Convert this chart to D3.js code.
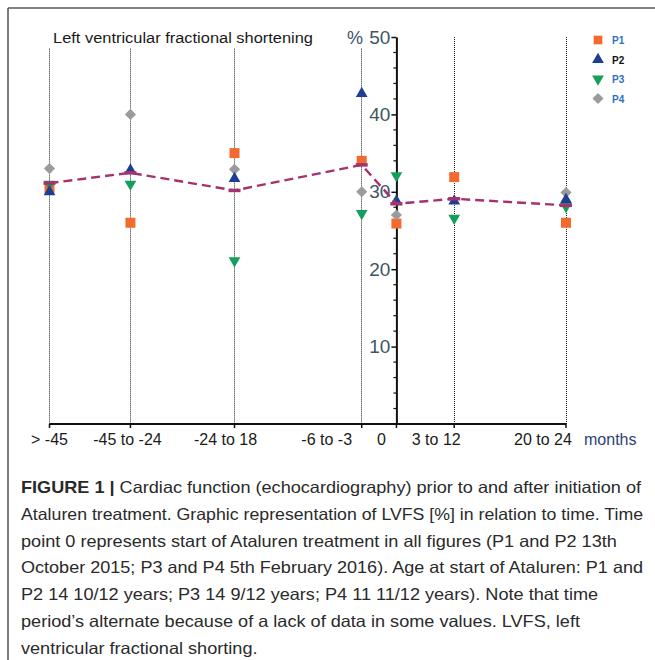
<!DOCTYPE html>
<html><head><meta charset="utf-8">
<script src="https://cdn.jsdelivr.net/npm/d3@7"></script>
<style>body{margin:0;background:#fff}svg{display:block}</style>
</head><body>
<svg id="c" width="655" height="660"></svg>
<script>
// ---- data ----
const categories = ["> -45", "-45 to -24", "-24 to 18", "-6 to -3", "0", "3 to 12", "20 to 24"];
const months = [-45, -34.5, -21, -4.5, 0, 7.5, 22];
const P1 = [30.5, 26, 35, 34, 25.9, 31.9, 26];
const P2 = [30, 32.8, 31.7, 42.7, 28.8, 28.8, 29];
const P3 = [31, 31, 21.1, 27.2, 32.1, 26.6, 28.1];
const P4 = [33, 40, 32.9, 30, 27, null, 29.9];
const seriesNames = ["P1", "P2", "P3", "P4"];
const yTicks = [10, 20, 30, 40, 50];

// ---- layout ----
const svg = d3.select("#c");
const x = d3.scaleLinear().domain([-45, 22]).range([49.5, 566]);
const y = d3.scaleLinear().domain([0, 50]).range([424, 37]);
const labelDx = [0, -3, -9, -35, -15, -18, -23];
const colors = {P1: "#f26a2e", P2: "#1c3f94", P3: "#14a05a", P4: "#9b9b9b"};
const legendText = {P1: "#2e6fc4", P2: "#111", P3: "#2e6fc4", P4: "#2e6fc4"};
const meanColor = "#a3326f";
const series = {P1, P2, P3, P4};
const FONT = "Liberation Sans, Arial, sans-serif";

// frame
svg.append("line").attr("x1", 8).attr("x2", 655).attr("y1", 8).attr("y2", 8).attr("stroke", "#5a5a5a").attr("stroke-width", 1.6);
svg.append("line").attr("x1", 8).attr("x2", 8).attr("y1", 8).attr("y2", 660).attr("stroke", "#5a5a5a").attr("stroke-width", 1.6);

// dotted verticals
months.forEach((m, i) => {
  if (m === 0) return;
  const xs = Math.floor(x(m)) + 0.5;
  svg.append("line").attr("x1", xs).attr("x2", xs)
    .attr("y1", m < 0 ? y(48.5) : y(50)).attr("y2", y(0))
    .attr("stroke", "#222").attr("stroke-width", 1).attr("stroke-dasharray", "1,1");
});

// y axis
const yAxis = d3.axisLeft(y).tickValues(yTicks).tickSize(5).tickPadding(1).tickSizeOuter(0);
const ga = svg.append("g").attr("transform", `translate(${x(0)},0)`).call(yAxis);
ga.select(".domain").attr("stroke", "#111").attr("stroke-width", 2);
ga.selectAll(".tick line").attr("stroke", "#111").attr("stroke-width", 1.5);
ga.selectAll(".tick text").attr("font-family", FONT).attr("font-size", 19).attr("fill", "#3e5661");
const minor = d3.range(2, 50, 2).filter(v => v % 10 !== 0);
svg.append("g").selectAll("line").data(minor).join("line")
  .attr("x1", x(0) - 3).attr("x2", x(0)).attr("y1", d => y(d)).attr("y2", d => y(d))
  .attr("stroke", "#111").attr("stroke-width", 1.2);

// x axis
svg.append("line").attr("x1", x(-45)).attr("x2", x(22)).attr("y1", y(0)).attr("y2", y(0)).attr("stroke", "#111").attr("stroke-width", 2);
svg.append("g").selectAll("line").data(months).join("line")
  .attr("x1", d => x(d)).attr("x2", d => x(d)).attr("y1", y(0)).attr("y2", y(0) + 4)
  .attr("stroke", "#111").attr("stroke-width", 1.5);
svg.append("g").selectAll("text").data(categories).join("text")
  .attr("x", (d, i) => x(months[i]) + labelDx[i]).attr("y", 445)
  .attr("text-anchor", "middle").attr("font-family", FONT)
  .attr("font-size", 16).attr("fill", "#1a1a1a").text(d => d);
svg.append("text").attr("x", 584).attr("y", 445).attr("font-family", FONT)
  .attr("font-size", 16).attr("fill", "#2c3f78").text("months");

// title and unit
svg.append("text").attr("x", 53).attr("y", 43)
  .attr("font-family", FONT).attr("font-size", 15.5).attr("fill", "#1a1a1a")
  .attr("textLength", 260).attr("lengthAdjust", "spacingAndGlyphs")
  .text("Left ventricular fractional shortening");
svg.append("text").attr("x", 355).attr("y", 44).attr("text-anchor", "middle")
  .attr("font-family", FONT).attr("font-size", 18).attr("fill", "#3c5070").text("%");

// symbols
const sym = {
  P1: {type: d3.symbolSquare, size: 100, rot: 0},
  P2: {type: d3.symbolTriangle, size: 60, rot: 0},
  P3: {type: d3.symbolTriangle, size: 60, rot: 180},
  P4: {type: d3.symbolSquare, size: 62, rot: 45}
};
const drawOrder = ["P1", "P4", "P3", "P2"];
drawOrder.forEach(name => {
  const s = sym[name];
  const pts = series[name].map((v, i) => ({m: months[i], v})).filter(d => d.v != null);
  svg.append("g").selectAll("path").data(pts).join("path")
    .attr("d", d3.symbol().type(s.type).size(s.size))
    .attr("transform", d => `translate(${x(d.m)},${y(d.v)}) rotate(${s.rot})`)
    .attr("fill", colors[name]);
});

// mean line
const means = months.map((m, i) => ({m, v: d3.mean(seriesNames, n => series[n][i])}));
svg.append("path").datum(means)
  .attr("d", d3.line().x(d => x(d.m)).y(d => y(d.v)))
  .attr("fill", "none").attr("stroke", meanColor).attr("stroke-width", 2.4).attr("stroke-dasharray", "9,5");
svg.append("g").selectAll("line").data(means).join("line")
  .attr("x1", d => x(d.m) - 6).attr("x2", d => x(d.m) + 6).attr("y1", d => y(d.v)).attr("y2", d => y(d.v))
  .attr("stroke", meanColor).attr("stroke-width", 3.5);

// legend
seriesNames.forEach((name, i) => {
  const s = sym[name];
  const ly = 40 + i * 19.5;
  const sc = name === "P1" ? 0.75 : 1;
  svg.append("path").attr("d", d3.symbol().type(s.type).size(s.size * sc))
    .attr("transform", `translate(598,${ly}) rotate(${s.rot})`).attr("fill", colors[name]);
  svg.append("text").attr("x", 612).attr("y", ly + 4).attr("font-family", FONT)
    .attr("font-size", 10).attr("font-weight", "bold").attr("fill", legendText[name]).text(name);
});

// caption
const captionLines = [
  [["FIGURE 1 |", true], [" Cardiac function (echocardiography) prior to and after initiation of", false]],
  [["Ataluren treatment. Graphic representation of LVFS [%] in relation to time. Time", false]],
  [["point 0 represents start of Ataluren treatment in all figures (P1 and P2 13th", false]],
  [["October 2015; P3 and P4 5th February 2016). Age at start of Ataluren: P1 and", false]],
  [["P2 14 10/12 years; P3 14 9/12 years; P4 11 11/12 years). Note that time", false]],
  [["period\u2019s alternate because of a lack of data in some values. LVFS, left", false]],
  [["ventricular fractional shorting.", false]]
];
const maxEnds = [641, 643, 621, 643, 600, 600, 600];
const capNodes = captionLines.map((parts, i) => {
  const t = svg.append("text").attr("x", 21).attr("y", 493 + i * 26.8)
    .attr("font-family", FONT).attr("font-size", 16.5).attr("fill", "#2a2a2a");
  parts.forEach(([txt, bold]) => t.append("tspan").attr("font-weight", bold ? "bold" : "normal").text(txt));
  return t;
});
const nat = capNodes.map(t => t.node().getComputedTextLength());
const k = (641 - 21) / nat[0];
capNodes.forEach((t, i) => t.attr("textLength", Math.min(nat[i] * k, maxEnds[i] - 21)).attr("lengthAdjust", "spacingAndGlyphs"));
</script>
</body></html>
